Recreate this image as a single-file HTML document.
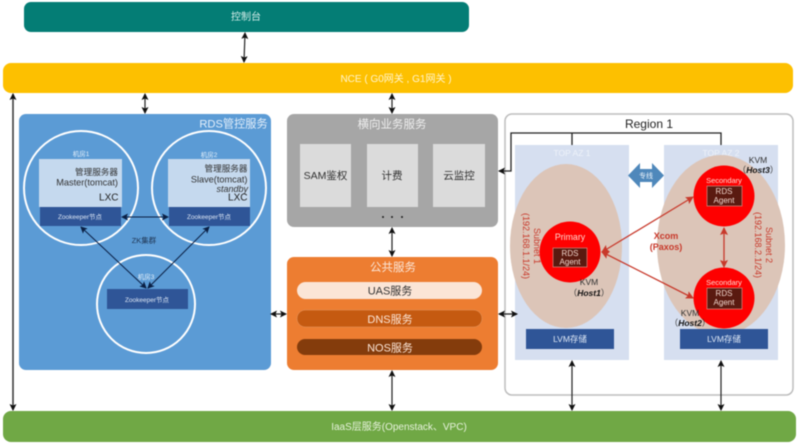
<!DOCTYPE html>
<html><head><meta charset="utf-8"><style>
html,body{margin:0;padding:0;background:#fff;width:800px;height:446px;overflow:hidden}
svg{display:block;filter:blur(.45px)}
text{font-family:"Liberation Sans","Noto Sans CJK SC",sans-serif;text-anchor:middle}
</style></head><body>
<svg width="800" height="446" viewBox="0 0 800 446" xmlns="http://www.w3.org/2000/svg">
<defs>
<marker id="a" markerWidth="7" markerHeight="7" refX="6" refY="3.5" orient="auto-start-reverse" markerUnits="userSpaceOnUse"><path d="M0 0L7 3.5L0 7L1.5 3.5Z" fill="#111"/></marker>
<marker id="n" markerWidth="7" markerHeight="7" refX="6" refY="3.5" orient="auto-start-reverse" markerUnits="userSpaceOnUse"><path d="M0 0L7 3.5L0 7L1.5 3.5Z" fill="#0a1f44"/></marker>
<marker id="r" markerWidth="8" markerHeight="8" refX="7" refY="4" orient="auto-start-reverse" markerUnits="userSpaceOnUse"><path d="M0 0L8 4L0 8L1.5 4Z" fill="#c8392b"/></marker>
</defs>
<rect x="24" y="2" width="445" height="30" rx="7" fill="#047d75"/>
<text x="246" y="20" font-size="10" fill="#d5eeea">控制台</text>
<rect x="3" y="63" width="790" height="30" rx="8" fill="#fdc000"/>
<text x="396" y="82" font-size="10" fill="#fff5cf">NCE ( G0网关 , G1网关 )</text>
<rect x="3" y="411" width="793" height="31" rx="8" fill="#70a845"/>
<text x="399" y="430" font-size="10" fill="#e6f2dc">IaaS层服务(Openstack、VPC)</text>

<rect x="19" y="114" width="252" height="256" rx="7" fill="#5b9bd5"/>
<text x="233.500" y="127.500" font-size="11.200" fill="#e4effa">RDS管控服务</text>
<circle cx="81" cy="188" r="57" fill="none" stroke="#fff" stroke-width="2"/>
<circle cx="209" cy="188" r="57" fill="none" stroke="#fff" stroke-width="2"/>
<circle cx="146" cy="304" r="49" fill="none" stroke="#fff" stroke-width="2"/>
<rect x="39" y="159" width="83" height="48" fill="#c5d9ee"/>
<rect x="168" y="159" width="82" height="48" fill="#c5d9ee"/>
<rect x="40" y="207" width="81" height="19" fill="#2f5597"/>
<rect x="169" y="207" width="81" height="19" fill="#2f5597"/>
<rect x="107" y="289" width="81" height="20" fill="#2f5597"/>
<text x="81" y="156" font-size="6.500" fill="#e4effa">机房1</text>
<text x="209" y="157" font-size="6.500" fill="#e4effa">机房2</text>
<text x="146" y="279" font-size="6.500" fill="#e4effa">机房3</text>
<g fill="#333">
<text x="118" y="175" font-size="8.600" style="text-anchor:end">管理服务器</text>
<text x="118" y="185.500" font-size="9.200" style="text-anchor:end">Master(tomcat)</text>
<text x="247.500" y="171.500" font-size="8.600" style="text-anchor:end">管理服务器</text>
<text x="247.500" y="182.500" font-size="9.200" style="text-anchor:end">Slave(tomcat)</text>
<text x="248" y="192" font-size="9" font-style="italic" style="text-anchor:end">standby</text>
</g>
<text x="118.500" y="200.500" font-size="10" fill="#222" style="text-anchor:end">LXC</text>
<text x="247.500" y="200.500" font-size="10" fill="#222" style="text-anchor:end">LXC</text>
<g font-size="6.500" fill="#dce6f4">
<text x="80" y="219">Zookeeper节点</text>
<text x="209" y="219">Zookeeper节点</text>
<text x="147" y="302">Zookeeper节点</text>
</g>
<text x="144" y="243" font-size="7.500" fill="#1f3553">ZK集群</text>
<g stroke="#0a1f44" stroke-width="1" fill="none">
<path d="M122 217H168" marker-start="url(#n)" marker-end="url(#n)"/>
<path d="M146 288L81 227" marker-start="url(#n)" marker-end="url(#n)"/>
<path d="M148 288L209 227" marker-start="url(#n)" marker-end="url(#n)"/>
</g>

<rect x="287" y="114" width="211" height="113" rx="7" fill="#a6a6a6"/>
<text x="392" y="128" font-size="11.500" fill="#eee">横向业务服务</text>
<rect x="300" y="144" width="51" height="63" fill="#dbdbdb"/>
<rect x="367" y="144" width="51" height="63" fill="#dbdbdb"/>
<rect x="433" y="144" width="52" height="63" fill="#dbdbdb"/>
<g font-size="10.500" fill="#333">
<text x="325.500" y="179">SAM鉴权</text>
<text x="392" y="179">计费</text>
<text x="459" y="179">云监控</text>
</g>
<circle cx="383" cy="217" r="1" fill="#222"/><circle cx="392" cy="217" r="1" fill="#222"/><circle cx="402" cy="217" r="1" fill="#222"/>

<rect x="287" y="257" width="211" height="113" rx="7" fill="#ed7d31"/>
<text x="393" y="271" font-size="11.500" fill="#fbe5d6">公共服务</text>
<rect x="297" y="282" width="185" height="17" rx="8.500" fill="#fbe5d6"/>
<rect x="297" y="310" width="185" height="17" rx="8.500" fill="#c55a11" stroke="#e59a66" stroke-width=".5"/>
<rect x="297" y="339" width="185" height="16" rx="8" fill="#843c0c"/>
<text x="390" y="294.500" font-size="11" fill="#333">UAS服务</text>
<text x="390" y="323" font-size="11" fill="#fbe5d6">DNS服务</text>
<text x="390" y="351.500" font-size="11" fill="#fbe5d6">NOS服务</text>

<rect x="505" y="114" width="288" height="281" rx="7" fill="#fff" stroke="#bdbdbd" stroke-width="1.500"/>
<text x="649" y="128" font-size="12" fill="#222">Region 1</text>
<rect x="515" y="145" width="114" height="215" fill="#d6dff0"/>
<rect x="664" y="145" width="114" height="215" fill="#d6dff0"/>
<text x="572" y="156" font-size="8.500" fill="#eef2f9">TOP AZ 1</text>
<text x="721" y="156" font-size="8.500" fill="#eef2f9">TOP AZ 2</text>
<ellipse cx="566" cy="246" rx="56" ry="82" fill="#dcc5b8"/>
<ellipse cx="721" cy="245" rx="64" ry="90" fill="#dcc5b8"/>
<path d="M628 175.500L640 163V169H652V163L664 175.500L652 188V182H640V188Z" fill="#4f88bb"/>
<text x="646" y="178" font-size="7" fill="#eaf2fa">专线</text>

<rect x="526" y="329" width="88" height="20" fill="#2f5597"/>
<rect x="680" y="329" width="88" height="20" fill="#2f5597"/>
<text x="570" y="342" font-size="8.500" fill="#dce6f4">LVM存储</text>
<text x="724" y="342" font-size="8.500" fill="#dce6f4">LVM存储</text>

<circle cx="570" cy="252" r="30.500" fill="#fe0000"/>
<circle cx="724" cy="196" r="30.500" fill="#fe0000"/>
<circle cx="724" cy="298" r="30.500" fill="#fe0000"/>
<g fill="#5a1a10" stroke="#d98a80" stroke-width=".7">
<rect x="553" y="248" width="34" height="19"/>
<rect x="707" y="186" width="35" height="20"/>
<rect x="707" y="288" width="35" height="21"/>
</g>
<text x="570" y="240" font-size="8.800" fill="#ffd9d0">Primary</text>
<text x="724" y="183" font-size="7.500" fill="#ffd9d0">Secondary</text>
<text x="724" y="285" font-size="7.500" fill="#ffd9d0">Secondary</text>
<g font-size="8" fill="#f0d5cc">
<text x="570" y="256">RDS</text><text x="570" y="264.500">Agent</text>
<text x="724" y="194">RDS</text><text x="724" y="203">Agent</text>
<text x="724" y="296">RDS</text><text x="724" y="305">Agent</text>
</g>
<g font-size="8.500" fill="#333">
<text x="589" y="285">KVM</text>
<text x="589" y="296">（<tspan font-weight="bold" font-style="italic" fill="#111">Host1</tspan>）</text>
<text x="690" y="316">KVM</text>
<text x="690" y="326">（<tspan font-weight="bold" font-style="italic" fill="#111">Host2</tspan>）</text>
<text x="758" y="163">KVM</text>
<text x="758" y="173">（<tspan font-weight="bold" font-style="italic" fill="#111">Host3</tspan>）</text>
</g>
<g font-size="9" fill="#c8392b" font-weight="bold">
<text x="666" y="239">Xcom</text>
<text x="666" y="250">(Paxos)</text>
</g>
<g font-size="9" fill="#c8392b">
<text transform="translate(523,246) rotate(90)">(192.168.1.1/24)</text>
<text transform="translate(534,246) rotate(90)">Subnet 1</text>
<text transform="translate(755,245) rotate(90)">(192.168.2.1/24)</text>
<text transform="translate(766,245) rotate(90)">Subnet 2</text>
</g>
<g stroke="#c8392b" stroke-width="1.300" fill="none">
<path d="M602 252L693 197" marker-start="url(#r)" marker-end="url(#r)"/>
<path d="M602 252L693 298" marker-start="url(#r)" marker-end="url(#r)"/>
<path d="M724 228V267" marker-start="url(#r)" marker-end="url(#r)"/>
</g>

<g stroke="#222" stroke-width="1.200" fill="none">
<path d="M721 145V133H511V171H499" stroke-width="1.300" marker-end="url(#a)"/>
<path d="M572 133V145" stroke-width="1.300"/>
<path d="M245 33L244 62" marker-start="url(#a)" marker-end="url(#a)"/>
<path d="M145 94V113" marker-start="url(#a)" marker-end="url(#a)"/>
<path d="M392 94V113" marker-start="url(#a)" marker-end="url(#a)"/>
<path d="M392 228V256" marker-start="url(#a)" marker-end="url(#a)"/>
<path d="M392 371V410" marker-start="url(#a)" marker-end="url(#a)"/>
<path d="M271 314H286" marker-start="url(#a)" marker-end="url(#a)"/>
<path d="M499 314H517" marker-start="url(#a)" marker-end="url(#a)"/>
<path d="M572 361V410" marker-start="url(#a)" marker-end="url(#a)"/>
<path d="M721 361V410" marker-start="url(#a)" marker-end="url(#a)"/>
<path d="M13 94V410" stroke="#333" stroke-width="1.500" marker-start="url(#a)" marker-end="url(#a)"/>
</g>
</svg>
</body></html>
